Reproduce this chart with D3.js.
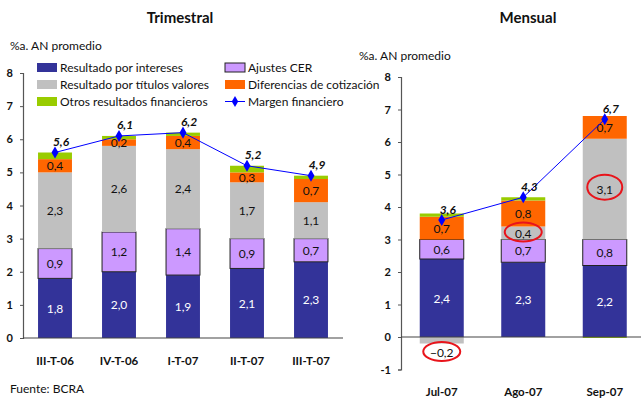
<!DOCTYPE html>
<html>
<head>
<meta charset="utf-8">
<script src="https://cdn.jsdelivr.net/npm/d3@7"></script>
<style>
  html, body { margin: 0; padding: 0; background: #fff; }
  svg { display: block; font-family: Lato, "Open Sans", sans-serif; }
</style>
</head>
<body>
<svg id="chart" width="641" height="398"></svg>
<script>
// Quarterly panel
const quarters = ["III-T-06", "IV-T-06", "I-T-07", "II-T-07", "III-T-07"];
const qIntereses   = [1.8, 2.0, 1.9, 2.1, 2.3];
const qCER         = [0.9, 1.2, 1.4, 0.9, 0.7];
const qTitulos     = [2.3, 2.6, 2.4, 1.7, 1.1];
const qDiferencias = [0.4, 0.2, 0.4, 0.3, 0.7];
const qOtros       = [0.2, 0.1, 0.1, 0.2, 0.1];
const qMargen      = [5.6, 6.1, 6.2, 5.2, 4.9];
const qTicks = [0, 1, 2, 3, 4, 5, 6, 7, 8];

// Monthly panel
const months = ["Jul-07", "Ago-07", "Sep-07"];
const mIntereses   = [2.4, 2.3, 2.2];
const mCER         = [0.6, 0.7, 0.8];
const mTitulos     = [-0.2, 0.4, 3.1];
const mDiferencias = [0.7, 0.8, 0.7];
const mOtros       = [0.1, 0.1, -0.03];
const mMargen      = [3.6, 4.3, 6.7];
const mTicks = [-1, 0, 1, 2, 3, 4, 5, 6, 7, 8];

const seriesKeys = ["intereses", "cer", "titulos", "diferencias", "otros"];
const seriesNames = {
  intereses: "Resultado por intereses",
  cer: "Ajustes CER",
  titulos: "Resultado por títulos valores",
  diferencias: "Diferencias de cotización",
  otros: "Otros resultados financieros"
};
const colors = {
  intereses: "#333399",
  cer: "#CC99FF",
  titulos: "#C0C0C0",
  diferencias: "#FF6600",
  otros: "#99CC00"
};
const fmt = v => d3.format(".1f")(v).replace(".", ",");

const svg = d3.select("#chart");

function buildRows(cats, a, b, c, d, e, m) {
  return cats.map((cat, i) => ({
    cat, intereses: a[i], cer: b[i], titulos: c[i], diferencias: d[i], otros: e[i], margen: m[i]
  }));
}

function drawPanel(opts) {
  const { rows, cats, x0, x1, yTop, yBottom, domain, ticks, padding, catLabelY, circled } = opts;
  const x = d3.scaleBand().domain(cats).range([x0, x1]).paddingInner(padding).paddingOuter(padding / 2);
  const y = d3.scaleLinear().domain(domain).range([yBottom, yTop]);
  const g = svg.append("g");

  // Y axis
  const yAxis = d3.axisLeft(y).tickValues(ticks).tickSize(3).tickPadding(7).tickFormat(d => d);
  const ya = g.append("g").attr("transform", `translate(${x0},0)`).call(yAxis);
  ya.select(".domain").attr("stroke", "#555").attr("stroke-width", 1.2);
  ya.selectAll(".tick line").attr("stroke", "#555");
  ya.selectAll(".tick text").attr("font-size", 11).attr("font-weight", "bold")
    .attr("fill", "#111").attr("font-family", "Lato, sans-serif");

  // Stacked bars
  const stack = d3.stack().keys(seriesKeys).offset(d3.stackOffsetDiverging);
  const layers = stack(rows);
  layers.forEach(layer => {
    const key = layer.key;
    g.append("g").selectAll("rect").data(layer).join("rect")
      .attr("x", d => x(d.data.cat))
      .attr("width", x.bandwidth())
      .attr("y", d => y(Math.max(d[0], d[1])))
      .attr("height", d => Math.abs(y(d[0]) - y(d[1])))
      .attr("fill", colors[key])
      .attr("stroke", key === "cer" ? "#222" : "none")
      .attr("stroke-width", key === "cer" ? 1 : 0);
  });

  // Zero line
  g.append("line")
    .attr("x1", x0).attr("x2", opts.axisEnd)
    .attr("y1", y(0)).attr("y2", y(0))
    .attr("stroke", "#444").attr("stroke-width", 1.2);

  // Segment labels
  layers.filter(l => l.key !== "otros").forEach(layer => {
    layer.forEach(d => {
      const v = d.data[layer.key];
      const cx = x(d.data.cat) + x.bandwidth() / 2;
      let cy = v < 0 ? y(Math.min(d[0], d[1])) + 9 : y((d[0] + d[1]) / 2);
      g.append("text")
        .attr("x", cx).attr("y", cy)
        .attr("text-anchor", "middle").attr("dominant-baseline", "central")
        .attr("font-size", 12)
        .attr("fill", layer.key === "intereses" ? "#fff" : "#111")
        .text(fmt(v));
      if (layer.key === "titulos" && circled) {
        const big = Math.abs(v) > 1;
        g.append("ellipse")
          .attr("cx", cx).attr("cy", cy - (big ? 2 : 1))
          .attr("rx", big ? 17.5 : 18.5).attr("ry", big ? 12.5 : 9.5)
          .attr("fill", "none").attr("stroke", "#E8141B").attr("stroke-width", 2);
      }
    });
  });

  // Margin line with diamond markers
  const line = d3.line().x(d => x(d.cat) + x.bandwidth() / 2).y(d => y(d.margen));
  g.append("path").datum(rows).attr("d", line)
    .attr("fill", "none").attr("stroke", "#0000FF").attr("stroke-width", 1);
  g.append("g").selectAll("path").data(rows).join("path")
    .attr("d", d3.symbol(d3.symbolDiamond, 42))
    .attr("transform", d => `translate(${x(d.cat) + x.bandwidth() / 2},${y(d.margen)})`)
    .attr("fill", "#0000FF");
  g.append("g").selectAll("text").data(rows).join("text")
    .attr("x", d => x(d.cat) + x.bandwidth() / 2 + 6)
    .attr("y", d => y(d.margen) - 11)
    .attr("text-anchor", "middle").attr("dominant-baseline", "central")
    .attr("font-size", 12).attr("font-weight", "bold").attr("font-style", "italic")
    .attr("fill", "#111")
    .text(d => fmt(d.margen));

  // Category labels
  g.append("g").selectAll("text").data(cats).join("text")
    .attr("x", d => x(d) + x.bandwidth() / 2)
    .attr("y", catLabelY)
    .attr("text-anchor", "middle").attr("dominant-baseline", "central")
    .attr("font-size", 11.5).attr("font-weight", "bold").attr("fill", "#111")
    .text(d => d);
}

drawPanel({
  rows: buildRows(quarters, qIntereses, qCER, qTitulos, qDiferencias, qOtros, qMargen),
  cats: quarters, x0: 23, x1: 343, axisEnd: 343,
  yTop: 73, yBottom: 338, domain: [0, 8], ticks: qTicks,
  padding: 0.47, catLabelY: 360, circled: false
});

drawPanel({
  rows: buildRows(months, mIntereses, mCER, mTitulos, mDiferencias, mOtros, mMargen),
  cats: months, x0: 401, x1: 645.5, axisEnd: 641,
  yTop: 77, yBottom: 369.5, domain: [-1, 8], ticks: mTicks,
  padding: 0.46, catLabelY: 391, circled: true
});

// Titles and units
svg.append("text").attr("x", 180).attr("y", 17).attr("text-anchor", "middle")
  .attr("dominant-baseline", "central").attr("font-size", 15).attr("font-weight", "bold")
  .attr("fill", "#111").text("Trimestral");
svg.append("text").attr("x", 528).attr("y", 17).attr("text-anchor", "middle")
  .attr("dominant-baseline", "central").attr("font-size", 15).attr("font-weight", "bold")
  .attr("fill", "#111").text("Mensual");
svg.append("text").attr("x", 10).attr("y", 45).attr("dominant-baseline", "central")
  .attr("font-size", 12).attr("fill", "#111").text("%a. AN promedio");
svg.append("text").attr("x", 359).attr("y", 55).attr("dominant-baseline", "central")
  .attr("font-size", 12).attr("fill", "#111").text("%a. AN promedio");

// Legend
const legendItems = [
  { key: "intereses", col: 0, row: 0 },
  { key: "cer", col: 1, row: 0 },
  { key: "titulos", col: 0, row: 1 },
  { key: "diferencias", col: 1, row: 1 },
  { key: "otros", col: 0, row: 2 },
  { key: "margen", col: 1, row: 2 }
];
const legendColX = [37, 225];
const legendRowY = [67.5, 84.5, 101.5];
const lg = svg.append("g");
legendItems.forEach(it => {
  const lx = legendColX[it.col], ly = legendRowY[it.row];
  if (it.key === "margen") {
    lg.append("line").attr("x1", lx).attr("x2", lx + 20).attr("y1", ly).attr("y2", ly)
      .attr("stroke", "#0000FF").attr("stroke-width", 1);
    lg.append("path").attr("d", d3.symbol(d3.symbolDiamond, 36))
      .attr("transform", `translate(${lx + 10},${ly})`).attr("fill", "#0000FF");
  } else {
    lg.append("rect").attr("x", lx).attr("y", ly - 4.5).attr("width", 20).attr("height", 9)
      .attr("fill", colors[it.key])
      .attr("stroke", it.key === "cer" ? "#222" : "none").attr("stroke-width", 1);
  }
  lg.append("text").attr("x", lx + 23).attr("y", ly).attr("dominant-baseline", "central")
    .attr("font-size", 12).attr("fill", "#111")
    .text(it.key === "margen" ? "Margen financiero" : seriesNames[it.key]);
});

// Source note
svg.append("text").attr("x", 10).attr("y", 393).attr("font-size", 12)
  .attr("fill", "#111").text("Fuente: BCRA");
</script>
</body>
</html>
